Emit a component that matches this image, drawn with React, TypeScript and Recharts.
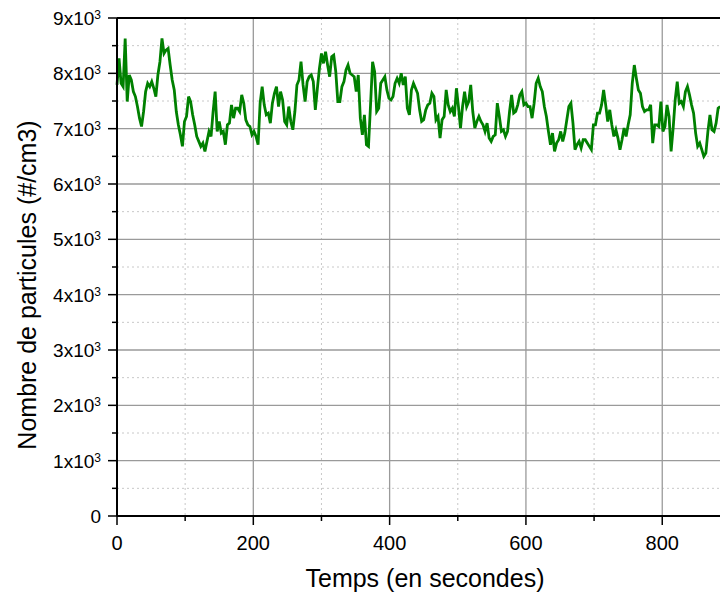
import { LineChart, Line, XAxis, YAxis, CartesianGrid, ReferenceLine } from "recharts";

// particle count (#/cm3), one reading every 3 s starting at t = 0
const STEP_S = 3;
const particles = [
  // 0 - 147 s
  7790, 8270, 7820, 7760, 8630, 7490, 7970, 7880, 7670, 7580, 7400, 7190, 7040, 7310, 7670, 7820, 7760,
  7850, 7730, 7580, 7970, 8210, 8630, 8360, 8420, 8450, 8150, 7880, 7700, 7310, 7070, 6890, 6680, 7130,
  7220, 7580, 7490, 7250, 7070, 6860, 6770, 6680, 6740, 6590, 6770, 6950, 6860, 7310, 7670, 6950,
  // 150 - 294 s
  7130, 6920, 6950, 6710, 7070, 7100, 7430, 7190, 7370, 7370, 7310, 7610, 7460, 7160, 7070, 7040, 6890,
  6950, 6860, 6710, 7460, 7760, 7430, 7250, 7280, 7100, 7460, 7640, 7760, 7400, 7670, 7520, 7130, 7070,
  7400, 7130, 6980, 7310, 7790, 7880, 8210, 7790, 7490, 7850, 7940, 7970, 7850, 7340, 7730,
  // 297 - 441 s
  8090, 8360, 8180, 8390, 8150, 7940, 8300, 8330, 8030, 7490, 7490, 7760, 7850, 8060, 8150, 8000, 7970,
  7940, 7670, 7970, 7190, 6890, 7250, 6710, 6680, 7430, 8210, 8030, 7310, 7370, 7820, 7880, 7940, 7700,
  7550, 7520, 7580, 7820, 7910, 7820, 8000, 7790, 7940, 7370, 7250, 7700, 7820, 7730, 7640,
  // 444 - 588 s
  7340, 7130, 7160, 7340, 7430, 7460, 7640, 7580, 7160, 7220, 6830, 7160, 7220, 7700, 7430, 7310, 7370,
  7220, 7730, 7400, 7010, 7400, 7670, 7400, 7490, 7790, 7310, 7010, 7130, 7220, 7130, 7070, 6950, 7100,
  6830, 6770, 6860, 6890, 7460, 7220, 6950, 6980, 6860, 6950, 7310, 7610, 7280, 7310, 7430,
  // 591 - 735 s
  7610, 7670, 7430, 7460, 7400, 7400, 7190, 7460, 7820, 7910, 7760, 7670, 7400, 7220, 6950, 6710, 6920,
  6590, 6740, 6800, 6950, 6770, 6920, 7160, 7400, 7460, 7100, 6620, 6710, 6770, 6650, 6800, 6800, 6740,
  6680, 6620, 7070, 7070, 7280, 7280, 7430, 7700, 7430, 7130, 7340, 7070, 6860, 6980, 6830,
  // 738 - 885 s
  6620, 6800, 7010, 6860, 7070, 7250, 7820, 8150, 7910, 7700, 7640, 7400, 7310, 7340, 7340, 7430, 6740,
  7070, 7070, 7040, 7490, 6950, 7040, 7430, 7220, 6590, 7010, 7520, 7850, 7460, 7490, 7400, 7670, 7760,
  7610, 7430, 7280, 6920, 6680, 6740, 6620, 6500, 6560, 6950, 7250, 6980, 6950, 7100, 7370, 7400,
];

const xTicks = [0, 100, 200, 300, 400, 500, 600, 700, 800, 900];
const xMajor = [200, 400, 600, 800];
const xMinor = [100, 300, 500, 700, 900];
const yTicks = [0, 500, 1000, 1500, 2000, 2500, 3000, 3500, 4000, 4500, 5000, 5500, 6000, 6500, 7000, 7500, 8000, 8500, 9000];
const yMajor = [1000, 2000, 3000, 4000, 5000, 6000, 7000, 8000];
const yMinor = [500, 1500, 2500, 3500, 4500, 5500, 6500, 7500, 8500];

const data = particles.map((v, i) => ({ t: i * STEP_S, v }));

const FONT = "'Liberation Sans', Arial, sans-serif";

const XTick = ({ x, y, payload }: any) => {
  const major = payload.value % 200 === 0;
  return (
    <g>
      <line x1={x} x2={x} y1={y} y2={y + (major ? 9 : 5)} stroke="#000" strokeWidth={1.5} />
      {major && (
        <text x={x} y={y + 34} textAnchor="middle" fontSize={20} fill="#000" fontFamily={FONT}>
          {payload.value}
        </text>
      )}
    </g>
  );
};

const YTick = ({ x, y, payload }: any) => {
  const v = payload.value;
  const major = v % 1000 === 0;
  return (
    <g>
      <line x1={x - (major ? 9 : 5)} x2={x} y1={y} y2={y} stroke="#000" strokeWidth={1.5} />
      {major && (
        <text x={x - 16} y={y + 7} textAnchor="end" fontSize={19} fill="#000" fontFamily={FONT}>
          {v === 0 ? "0" : `${v / 1000}x10`}
          {v !== 0 && (
            <tspan dy={-6} fontSize={12}>
              3
            </tspan>
          )}
        </text>
      )}
    </g>
  );
};

export default function App() {
  return (
    <div
      style={{
        position: "absolute",
        left: 0,
        top: 0,
        width: 720,
        height: 597,
        overflow: "hidden",
        background: "#fff",
        fontFamily: FONT,
      }}
    >
      <LineChart width={745} height={597} data={data} margin={{ top: 18, right: 14.6, left: 0, bottom: 0 }}>
        <CartesianGrid stroke="#c8c8c8" strokeDasharray="2 3" horizontalValues={yMinor} verticalValues={xMinor} />
        <CartesianGrid stroke="#9a9a9a" strokeWidth={1.3} horizontalValues={yMajor} verticalValues={xMajor} />
        <XAxis
          dataKey="t"
          type="number"
          domain={[0, 900]}
          ticks={xTicks}
          interval={0}
          tickSize={0}
          tickMargin={0}
          tick={<XTick />}
          axisLine={{ stroke: "#000", strokeWidth: 2 }}
          height={81}
        />
        <YAxis
          type="number"
          domain={[0, 9000]}
          ticks={yTicks}
          interval={0}
          tickSize={0}
          tickMargin={0}
          tick={<YTick />}
          axisLine={{ stroke: "#000", strokeWidth: 2 }}
          width={117}
        />
        <ReferenceLine y={9000} stroke="#000" strokeWidth={2} ifOverflow="visible" />
        <Line
          type="linear"
          dataKey="v"
          stroke="#008000"
          strokeWidth={2.8}
          dot={false}
          isAnimationActive={false}
        />
      </LineChart>
      <div
        style={{
          position: "absolute",
          left: 225,
          top: 565,
          width: 400,
          textAlign: "center",
          fontSize: 25,
          lineHeight: "26px",
          color: "#000",
        }}
      >
        Temps (en secondes)
      </div>
      <div
        style={{
          position: "absolute",
          left: 27 - 220,
          top: 285 - 13,
          width: 440,
          textAlign: "center",
          fontSize: 25,
          lineHeight: "26px",
          color: "#000",
          transform: "rotate(-90deg)",
        }}
      >
        Nombre de particules (#/cm3)
      </div>
    </div>
  );
}
